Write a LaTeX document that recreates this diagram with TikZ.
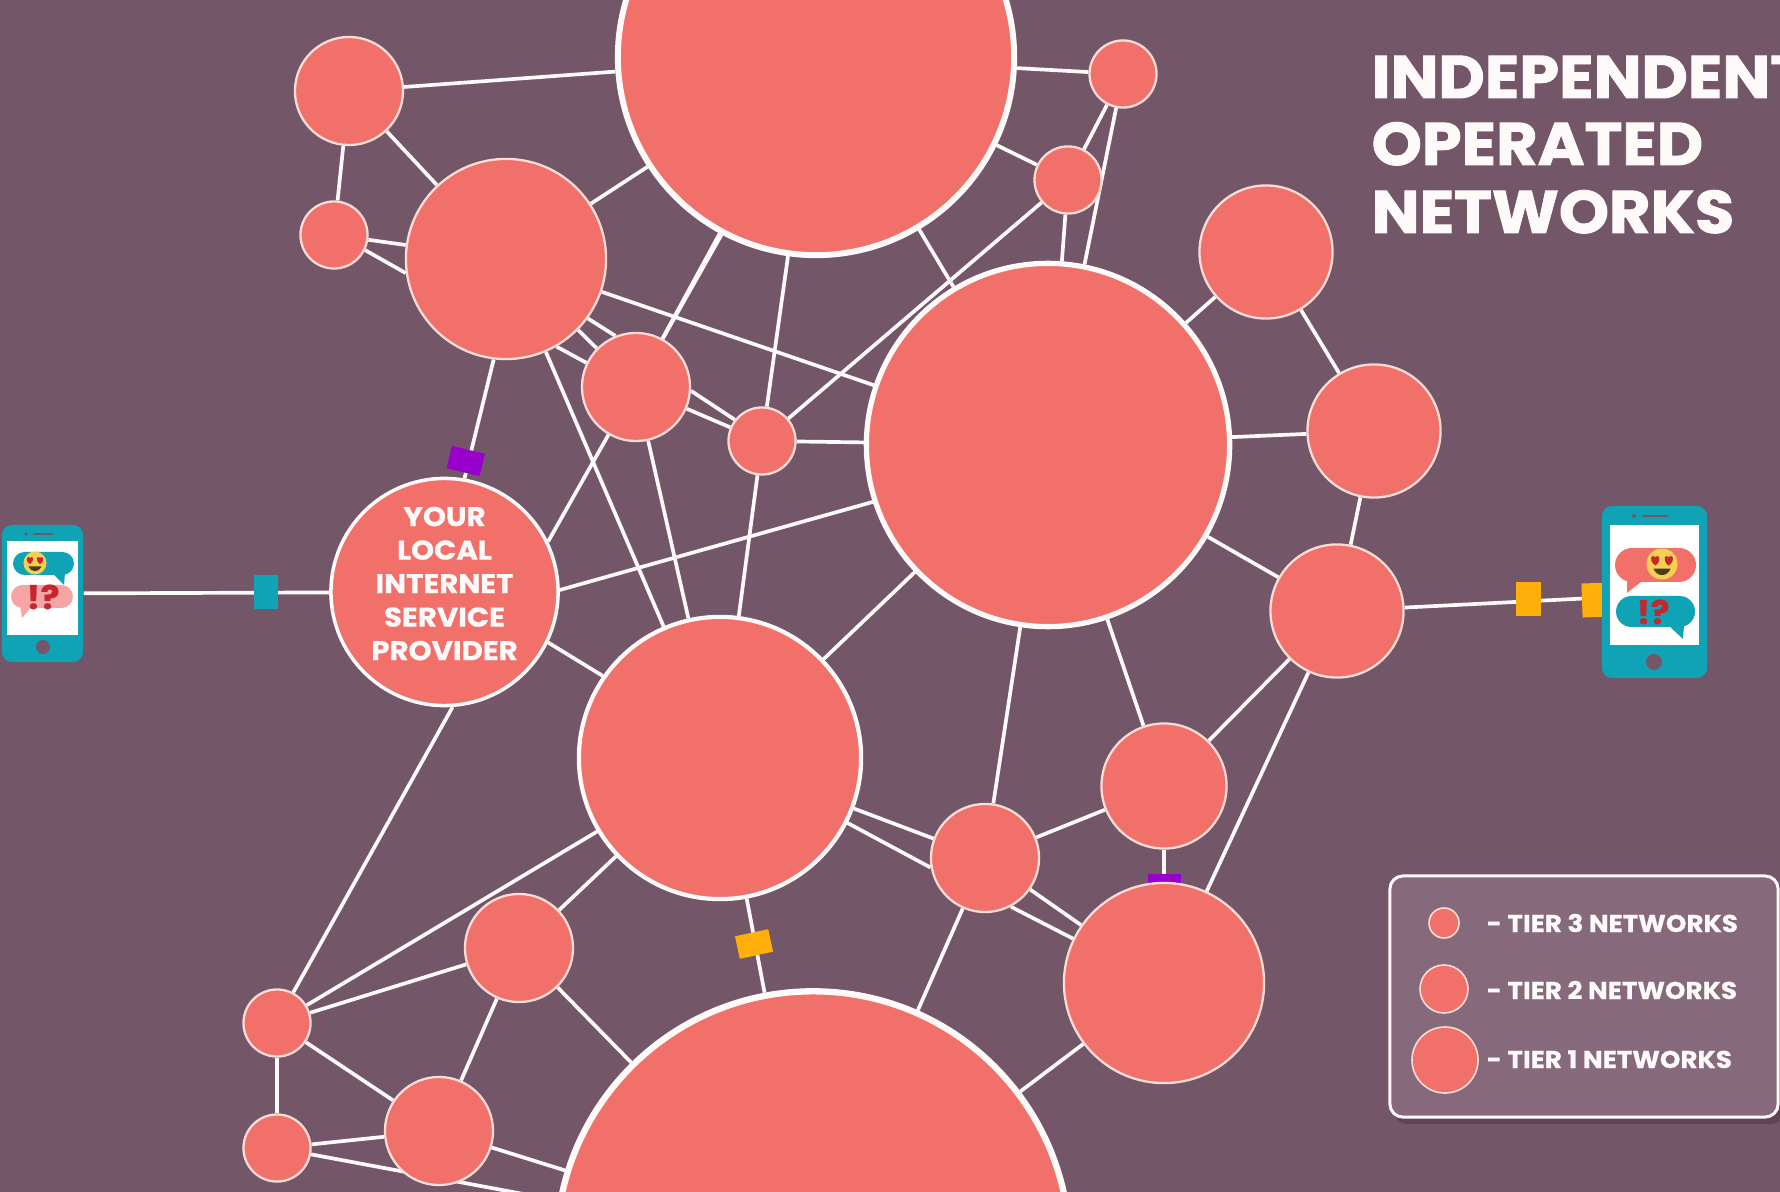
\documentclass[tikz,border=0pt]{standalone}
\usepackage{fontspec}
\newfontfamily\hv{Poppins}[BoldFeatures={FakeStretch=1.08,FakeBold=0.6}]
\newfontfamily\hvt{Poppins}[BoldFeatures={FakeStretch=1.06,FakeBold=1.6}]
\pgfdeclarelayer{edges}
\pgfsetlayers{edges,main}
\definecolor{bgc}{HTML}{735668}
\definecolor{sal}{HTML}{F1706A}
\definecolor{wht}{HTML}{FFFAFA}
\definecolor{pale}{HTML}{FBDCD7}
\definecolor{tealc}{HTML}{0FA3B5}
\definecolor{purp}{HTML}{9A00CC}
\definecolor{oran}{HTML}{FFAE0A}
\definecolor{pinkb}{HTML}{F5A5A5}
\definecolor{lega}{HTML}{87697C}
\definecolor{yel}{HTML}{F5CF52}
\definecolor{redt}{HTML}{C7262C}
\tikzset{
 x=0.01cm,y=-0.01cm,
 link/.style={draw=wht,line width=1.05pt},
 net/.style={circle,fill=sal,draw=pale,line width=0.65pt,inner sep=0pt,minimum size=#1*0.02cm},
 netb/.style={net=#1,draw=wht,line width=1.5pt},
 tag/.style={inner sep=0pt,minimum width=#1*0.01cm},
 phone/.style={rectangle,fill=tealc,rounded corners=0.1cm,inner sep=0pt},
 titletxt/.style={inner sep=0pt,anchor=base west,text=wht,font=\hvt\bfseries\fontsize{17.1}{20}\selectfont},
 legtxt/.style={inner sep=0pt,anchor=base west,text=wht,font=\hv\bfseries\fontsize{6.9}{8}\selectfont},
 excl/.style={inner sep=0pt,text=redt,font=\hv\bfseries\fontsize{9.4}{10}\selectfont}
}
\newcommand\Heartface[4]{%
 \node[circle,fill=yel,inner sep=0pt,minimum size=#4*0.02cm] (#1) at (#2,#3) {};
 \begin{scope}[shift={(#2,#3)},scale=#4]
  \fill[redt] (-.42,.1) .. controls (-.95,-.25) and (-.65,-.7) .. (-.42,-.45) .. controls (-.2,-.7) and (.02,-.25) .. (-.42,.1) -- cycle;
  \fill[redt] (.42,.1) .. controls (-.02,-.25) and (.2,-.7) .. (.42,-.45) .. controls (.65,-.7) and (.95,-.25) .. (.42,.1) -- cycle;
  \fill[black!70!yel] (-.55,.3) .. controls (-.35,.85) and (.35,.85) .. (.55,.3) -- cycle;
 \end{scope}}
\begin{document}
\begin{tikzpicture}
\useasboundingbox (0,0) rectangle (1780,1192);
% networks
\node[netb=198,line width=1.7pt] (T1a) at (816,57) {};
\node[netb=181.5] (T1b) at (1048,445) {};
\node[netb=141,line width=1.2pt] (T1c) at (720,758) {};
\node[netb=256.5,line width=1.8pt] (T1d) at (813,1248) {};
\node[netb=113.5,line width=1pt,align=center,text=wht,text depth=0.17cm,
  font=\hv\bfseries\fontsize{7.7}{9.53}\selectfont] (ISP) at (444.5,592) {YOUR\\LOCAL\\INTERNET\\SERVICE\\PROVIDER};
\node[net=100] (A) at (506,259) {};
\node[net=100] (G) at (1164,983) {};
\node[net=66.5] (R1) at (1266,252) {};
\node[net=66.5] (R2) at (1374,431) {};
\node[net=66.5] (R3) at (1337,611) {};
\node[net=62.5] (H) at (1164,786) {};
\node[net=54] (N1) at (349,91) {};
\node[net=54] (B) at (636,387) {};
\node[net=54] (F) at (985,858) {};
\node[net=54] (J) at (519,948) {};
\node[net=54] (K) at (439,1131) {};
\node[net=33.5] (S1) at (334,235) {};
\node[net=33.5] (S2) at (1123,74) {};
\node[net=33.5] (S3) at (1068,180) {};
\node[net=33.5] (C) at (762,441) {};
\node[net=33.5] (S5) at (277,1023) {};
\node[net=33.5] (S6) at (277,1148) {};
% phones
\node[phone,minimum width=0.81cm,minimum height=1.37cm] (phoneL) at (42.5,593.5) {};
\node[phone,minimum width=1.05cm,minimum height=1.72cm] (phoneR) at (1654.5,592) {};
\begin{pgfonlayer}{edges}
\fill[bgc] (0,0) rectangle (1780,1192);
\foreach \a/\b in {N1/T1a,N1/S1,N1/A,S1/A,S1.-26/A.188,A/T1a,T1a/S2,T1a/S3,T1a/T1b,S2/S3,S2/T1b,S3/T1b,S3/C,
  T1a/B,ISP.26/T1a.242,T1a/C,A/T1b,A.-36/B.112,A/B,A.-60/B.154,A/T1c,B/T1c,B/C,B.-4/C.142,C/T1b,C/T1c,
  ISP.1/T1b.198,ISP.80/A.263,ISP.-26/T1c.145,T1b/T1c,T1b/R1,R1/R2,T1b/R2,R2/R3,T1b/R3,T1b/F,T1b/H,R3/H,R3/G,
  H/F,H/G,F/T1c,F.190/T1c.-27,F/G,F.-62/G.154,F/T1d,G/T1d,T1c/T1d,T1c/J,T1c/S5,J/S5,ISP.-86/S5.62,J/K,J/T1d,
  S5/S6,S5/K,S6/K,S6/T1d,K/T1d,ISP/phoneL}
  \draw[link] (\a) -- (\b);
\draw[link] (R3) -- (phoneR.186);
% packets
\node[tag=24,minimum height=0.34cm,fill=tealc] (pk1) at (266,592) {};
\node[tag=34,minimum height=0.23cm,fill=purp,rotate=-13.5] (pk2) at (465.7,461) {};
\node[tag=34,minimum height=0.23cm,fill=oran,rotate=12] (pk3) at (754,944) {};
\node[tag=33,minimum height=0.16cm,fill=purp] (pk4) at (1164.5,882) {};
\node[tag=25,minimum height=0.34cm,fill=oran] (pk5) at (1528,599) {};
\node[tag=30,minimum height=0.34cm,fill=oran,rotate=2] (pk6) at (1597,600) {};
\end{pgfonlayer}
% left phone detail
\fill[white] (7,541) rectangle (78,635);
\fill[bgc] (26,534) circle (1.8);
\draw[bgc,line width=0.6pt,line cap=round] (34,534) -- (52,534);
\fill[bgc] (43,647) circle (7);
\fill[tealc,rounded corners=0.115cm] (13,552) rectangle (74,575);
\fill[tealc] (52,573) -- (65,573) -- (64,585) -- cycle;
\fill[pinkb,rounded corners=0.115cm] (11,585) rectangle (73,608);
\fill[pinkb] (20,605) -- (33,605) -- (22,618) -- cycle;
\Heartface{emoL}{35}{563}{11.5}
\node[excl] (exL) at (43,597) {!?};
% right phone detail
\fill[white] (1610,525) rectangle (1699,645);
\fill[bgc] (1634,516) circle (2);
\draw[bgc,line width=0.7pt,line cap=round] (1643,516) -- (1667,516);
\fill[bgc] (1654,662) circle (8);
\fill[sal,rounded corners=0.17cm] (1615,548) rectangle (1696,582);
\fill[sal] (1627,578) -- (1646,578) -- (1627,593) -- cycle;
\fill[tealc,rounded corners=0.155cm] (1616,596) rectangle (1695,627);
\fill[tealc] (1667,624) -- (1684,624) -- (1683,639) -- cycle;
\Heartface{emoR}{1662}{564}{15.5}
\node[excl] (exR) at (1653,612) {!?};
% title
\node[titletxt] (t1) at (1371,98) {INDEPENDENT};
\node[titletxt] (t2) at (1371,165) {OPERATED};
\node[titletxt] (t3) at (1371,233) {NETWORKS};
% legend
\fill[black,opacity=.18,rounded corners=0.13cm] (1394,884) rectangle (1784,1124);
\node[rectangle,draw=wht,fill=lega,line width=0.85pt,rounded corners=0.13cm,inner sep=0pt,minimum width=3.88cm,minimum height=2.41cm] (legend) at (1584,996.5) {};
\node[net=15,line width=0.45pt] (L3) at (1444,923) {};
\node[net=24,line width=0.45pt] (L2) at (1444,989) {};
\node[net=33,line width=0.45pt] (L1) at (1445,1060) {};
\node[legtxt] (l3) at (1486,932) {- TIER 3 NETWORKS};
\node[legtxt] (l2) at (1486,999) {- TIER 2 NETWORKS};
\node[legtxt] (l1) at (1486,1068) {- TIER 1 NETWORKS};
\end{tikzpicture}
\end{document}
